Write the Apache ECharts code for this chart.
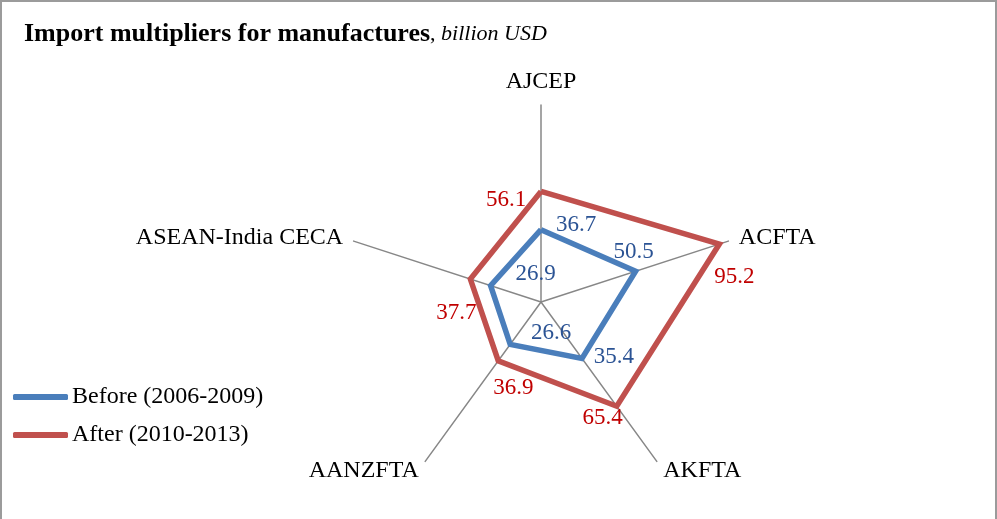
<!DOCTYPE html>
<html>
<head>
<meta charset="utf-8">
<script src="https://cdn.jsdelivr.net/npm/echarts@6/dist/echarts.min.js"></script>
<style>
  html, body { margin: 0; padding: 0; background: #fff; }
  #wrap { position: relative; width: 997px; height: 519px; }
  #chart { position: absolute; left: 0; top: 0; width: 997px; height: 519px; }
  #frame { position: absolute; left: 0; top: 0; right: 0; bottom: -4px; box-sizing: border-box;
           border: 2px solid #9b9b9b; pointer-events: none; }
</style>
</head>
<body>
<div id="wrap"><div id="chart"></div><div id="frame"></div></div>
<script>
// Trade agreements, listed clockwise from the top spoke
const categories = ['AJCEP', 'ACFTA', 'AKFTA', 'AANZFTA', 'ASEAN-India CECA'];
const before = [36.7, 50.5, 35.4, 26.6, 26.9];
const after = [56.1, 95.2, 65.4, 36.9, 37.7];
const seriesNames = ['Before (2006-2009)', 'After (2010-2013)'];
const axisMax = 100;

const FONT = '"Liberation Serif", "Times New Roman", serif';
const lineColors = ['#4A7EBB', '#C0504D'];
const labelColors = ['#2B5394', '#C00000'];

// value label nudges (px) relative to each vertex, per series, clockwise order
const labelNudge = [
  [[35, -5], [-2, -19], [32, -1], [41, -11], [45, -12]],
  [[-35, 8], [15, 33], [-14, 12], [15, 27], [-14, 34]]
];

// ECharts lays radar spokes counter-clockwise; reorder so they run clockwise
const order = [0].concat(categories.map((_, i) => i).slice(1).reverse());
const reorder = arr => order.map(i => arr[i]);

const chart = echarts.init(document.getElementById('chart'));
const values = [before, after];

chart.setOption({
  animation: false,
  title: {
    left: 19, top: 16,
    text: '{b|Import multipliers for manufactures}{n|, }{i|billion USD}',
    textStyle: {
      rich: {
        b: { fontFamily: FONT, fontWeight: 'bold', fontSize: 26, color: '#000' },
        n: { fontFamily: FONT, fontWeight: 'normal', fontSize: 22, color: '#000' },
        i: { fontFamily: FONT, fontWeight: 'normal', fontStyle: 'italic', fontSize: 22, color: '#000' }
      }
    }
  },
  legend: {
    orient: 'vertical', left: 13, top: 385, padding: 0,
    itemWidth: 55, itemHeight: 6, itemGap: 14,
    icon: 'roundRect',
    textStyle: { fontFamily: FONT, fontSize: 24, color: '#000', padding: [0, 0, 0, -1] },
    data: seriesNames
  },
  radar: {
    center: [541, 302], radius: 197,
    startAngle: 90,
    indicator: reorder(categories).map(name => ({ name: name, min: 0, max: axisMax })),
    shape: 'polygon', splitNumber: 1,
    nameGap: 11,
    axisName: { color: '#000', fontFamily: FONT, fontSize: 24 },
    axisLine: { lineStyle: { color: '#878787', width: 1.5 } },
    splitLine: { show: false },
    splitArea: { show: false },
    axisTick: { show: false },
    axisLabel: { show: false }
  },
  series: [{
    type: 'radar',
    symbol: 'none',
    data: values.map((v, k) => ({
      name: seriesNames[k],
      value: reorder(v),
      itemStyle: { color: lineColors[k] },
      lineStyle: { color: lineColors[k], width: 5.5, join: 'miter' }
    }))
  }]
});

// value labels placed at each vertex through the radar coordinate system
const radarCS = chart.getModel().getComponent('radar', 0).coordinateSystem;
const texts = [];
values.forEach((v, k) => {
  categories.forEach((c, i) => {
    const slot = order.indexOf(i);
    const p = radarCS.dataToPoint(v[i], slot);
    texts.push({
      type: 'text', z: 10,
      x: p[0] + labelNudge[k][i][0], y: p[1] + labelNudge[k][i][1],
      style: {
        text: v[i].toFixed(1), fill: labelColors[k],
        font: '23px ' + FONT, align: 'center', verticalAlign: 'middle'
      }
    });
  });
});
chart.setOption({ graphic: texts });
</script>
</body>
</html>
